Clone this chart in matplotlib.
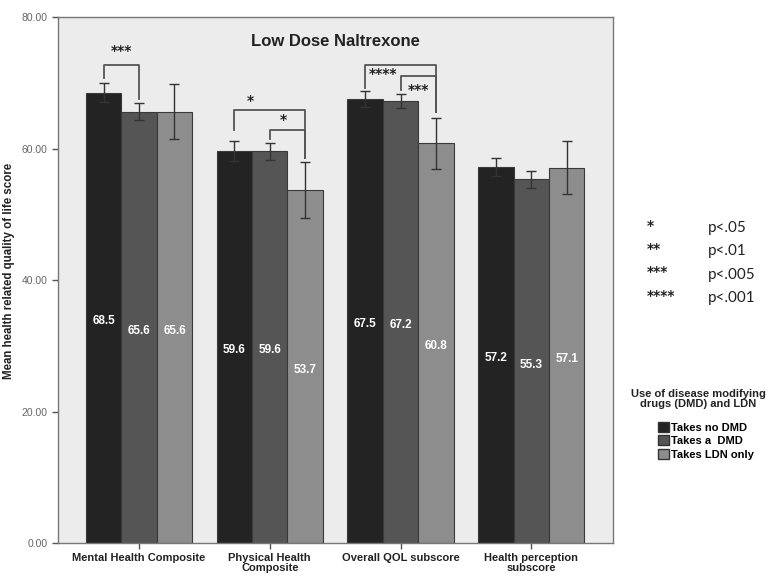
import numpy as np
import matplotlib.pyplot as plt
from matplotlib.patches import Patch

### DATOS
### ------------------

categories = ['Mental Health Composite', 'Physical Health\nComposite',
              'Overall QOL subscore', 'Health perception\nsubscore']
groups = ['Takes no DMD', 'Takes a  DMD', 'Takes LDN only']
no_dmd = [68.5, 59.6, 67.5, 57.2]
dmd = [65.6, 59.6, 67.2, 55.3]
ldn_only = [65.6, 53.7, 60.8, 57.1]
no_dmd_err = [1.4, 1.5, 1.2, 1.4]
dmd_err = [1.3, 1.3, 1.1, 1.3]
ldn_only_err = [4.2, 4.3, 3.9, 4.0]
yticks = [0, 20, 40, 60, 80]
sig_key = [('*', 'p<.05'), ('**', 'p<.01'), ('***', 'p<.005'), ('****', 'p<.001')]

# brackets: (grupo, barra izq, barra der, altura, pata izq, pata der)
brackets = [
    (0, 0, 1, 72.7, 70.8, 67.6),
    (1, 0, 2, 65.9, 62.8, 58.5),
    (1, 1, 2, 62.8, 61.4, 58.5),
    (2, 0, 2, 72.7, 69.2, 65.6),
    (2, 1, 2, 71.0, 68.9, 65.6),
]
# estrellas: (grupo, desplazamiento, altura, texto)
bracket_stars = [
    (0, -0.135, 74.8, '***'),
    (1, -0.15, 67.3, '*'),
    (1, 0.107, 64.3, '*'),
    (2, -0.137, 71.4, '****'),
    (2, 0.137, 68.9, '***'),
]

### GRAFICA
### ------------------

colors = ['#232323', '#555555', '#8d8d8d']
series = [no_dmd, dmd, ldn_only]
errs = [no_dmd_err, dmd_err, ldn_only_err]
w = 0.271
x = np.arange(len(categories))

fig = plt.figure(figsize=(7.72, 5.77), dpi=100)
ax = fig.add_axes([0.0751, 0.0589, 0.7189, 0.9116])
ax.set_facecolor('#ececec')

for i, (vals, err) in enumerate(zip(series, errs)):
    pos = x + (i - 1) * w
    ax.bar(pos, vals, width=w, color=colors[i], edgecolor='#3a3a3a', linewidth=0.8, zorder=2)
    ax.errorbar(pos, vals, yerr=err, fmt='none', ecolor='#333333', elinewidth=1.0,
                capsize=3.7, capthick=1.0, zorder=3)
    for p, v in zip(pos, vals):
        ax.text(p, v / 2 - 0.5, f'{v:.1f}', color='white', ha='center', va='center',
                fontsize=8.5, fontweight='bold', family='Liberation Sans', zorder=4)

for g, a, b, h, la, lb in brackets:
    xa = g + (a - 1) * w
    xb = g + (b - 1) * w
    ax.plot([xa, xa, xb, xb], [la, h, h, lb], color='#555555', lw=1.3, zorder=3)

for g, dx, h, stars in bracket_stars:
    ax.text(g + dx, h, stars, ha='center', va='center', fontsize=10, fontweight='bold',
            color='#222222')

ax.set_xlim(-0.62, 3.625)
ax.set_ylim(0, 80)
ax.set_yticks(yticks)
ax.set_yticklabels([f'{t:.2f}' for t in yticks], fontsize=7.5, color='#666666', family='Liberation Sans')
ax.set_xticks(x)
ax.set_xticklabels(categories, fontsize=8, fontweight='bold', color='#222222',
                   family='Liberation Sans', linespacing=0.9)
ax.tick_params(axis='both', length=4, color='#555555', width=1)
for s in ax.spines.values():
    s.set_color('#777777')
    s.set_linewidth(1.0)

ax.set_title('Low Dose Naltrexone', fontsize=12, fontweight='bold', y=0.93,
             family='Liberation Sans', color='#222222')
ax.set_ylabel('Mean health related quality of life score', fontsize=8.3, fontweight='bold',
              family='Liberation Sans', color='#222222')
ax.yaxis.set_label_coords(-0.078, 0.517)

# clave de significancia
for k, (stars, label) in enumerate(sig_key):
    yy = 1 - (228 + k * 23.3) / 577
    fig.text(647 / 772, yy + 0.004, stars, fontsize=10, fontweight='bold', va='center', color='#222222')
    fig.text(708 / 772, yy, label, fontsize=11, va='center', family='Lato', color='#222222')

# leyenda
fig.text(698 / 772, 1 - 399 / 577, 'Use of disease modifying\ndrugs (DMD) and LDN',
         ha='center', va='center', fontsize=8, fontweight='bold', family='Liberation Sans',
         color='#222222', linespacing=1.05)
handles = [Patch(facecolor=c, edgecolor='#333333') for c in colors]
leg = fig.legend(handles, groups, loc='upper left', bbox_to_anchor=(650 / 772, 1 - 414 / 577),
                 frameon=False, prop={'family': 'Liberation Sans', 'weight': 'bold', 'size': 8},
                 handlelength=1.0, handleheight=1.0, handletextpad=0.2, labelspacing=0.25,
                 borderpad=0.2)

fig.savefig('out.png', dpi=100)
